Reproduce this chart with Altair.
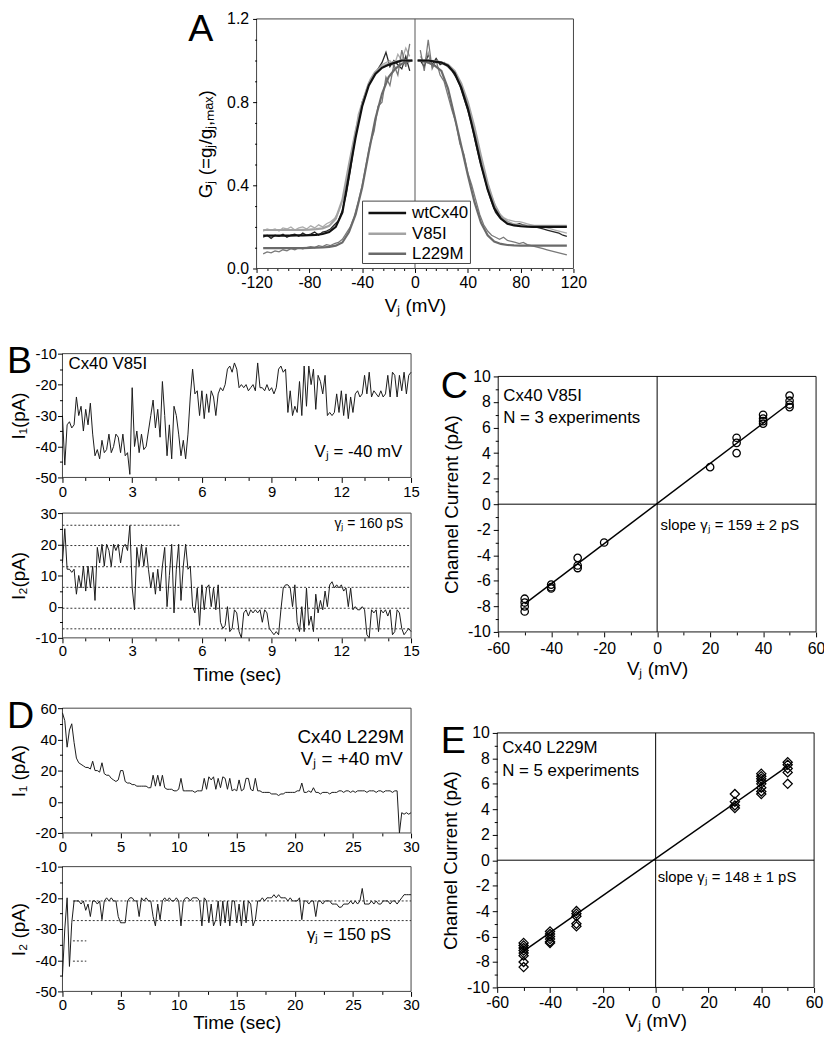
import altair as alt
import pandas as pd

W, H = 824, 1029
FONT = "Liberation Sans"

# ---------------- Panel A : normalized junctional conductance ----------------
SERIES = ["wtCx40", "V85I", "L229M"]
SERIES_COLORS = ["#111111", "#a3a3a3", "#6a6a6a"]

A_VJ_LEFT = [-115 + 3 * k for k in range(38)]
A_VJ_RIGHT = [4 + 3 * k for k in range(38)]

A_WT_LEFT = [0.15, 0.16, 0.145, 0.16, 0.155, 0.165, 0.15, 0.16, 0.165, 0.155,
             0.17, 0.16, 0.165, 0.175, 0.16, 0.175, 0.18, 0.19, 0.21, 0.23,
             0.28, 0.36, 0.47, 0.60, 0.70, 0.80, 0.85, 0.90, 0.93, 0.96,
             0.99, 1.04, 0.97, 1.00, 0.98, 0.96, 1.02, 0.95]
A_V85I_LEFT = [0.18, 0.19, 0.185, 0.19, 0.18, 0.195, 0.19, 0.2, 0.185, 0.195,
               0.2, 0.19, 0.205, 0.195, 0.21, 0.2, 0.215, 0.225, 0.24, 0.27,
               0.33, 0.42, 0.53, 0.62, 0.74, 0.80, 0.86, 0.91, 0.94, 0.96,
               0.98, 0.99, 1.0, 0.97, 1.03, 1.0, 1.06, 1.02]
A_L229M_LEFT = [0.07, 0.08, 0.075, 0.085, 0.08, 0.09, 0.085, 0.095, 0.09, 0.1,
                0.095, 0.1, 0.105, 0.1, 0.11, 0.105, 0.115, 0.11, 0.12, 0.125,
                0.14, 0.17, 0.2, 0.25, 0.32, 0.40, 0.50, 0.60, 0.66, 0.78,
                0.80, 0.92, 0.88, 0.98, 0.93, 1.05, 0.97, 1.08]
A_WT_RIGHT = [1.0, 0.97, 1.03, 0.98, 1.01, 0.98, 0.99, 0.97, 0.95, 0.92,
              0.88, 0.82, 0.76, 0.69, 0.60, 0.52, 0.45, 0.38, 0.32, 0.27,
              0.245, 0.23, 0.22, 0.215, 0.21, 0.215, 0.21, 0.205, 0.2, 0.2,
              0.195, 0.19, 0.185, 0.18, 0.175, 0.17, 0.16, 0.155]
A_V85I_RIGHT = [1.02, 0.99, 1.04, 0.97, 1.0, 0.99, 0.98, 0.97, 0.96, 0.93,
                0.90, 0.85, 0.79, 0.72, 0.63, 0.55, 0.48, 0.41, 0.35, 0.30,
                0.265, 0.245, 0.235, 0.23, 0.225, 0.225, 0.22, 0.215, 0.21, 0.205,
                0.2, 0.2, 0.195, 0.19, 0.185, 0.18, 0.175, 0.17]
A_L229M_RIGHT = [1.05, 0.95, 1.1, 0.96, 1.0, 0.93, 0.90, 0.83, 0.76, 0.70,
                 0.60, 0.55, 0.46, 0.40, 0.33, 0.26, 0.21, 0.18, 0.16, 0.15,
                 0.14, 0.15, 0.135, 0.13, 0.125, 0.12, 0.125, 0.115, 0.11, 0.105,
                 0.10, 0.095, 0.09, 0.085, 0.08, 0.075, 0.07, 0.065]

A_FIT_VJ_LEFT = [-115, -110, -105, -100, -95, -90, -85, -80, -75, -70, -65, -60,
                 -55, -50, -45, -40, -35, -30, -25, -20, -15, -10, -5, -2]
A_FIT_VJ_RIGHT = [2, 5, 10, 15, 20, 25, 30, 35, 40, 45, 50, 55, 60, 65, 70, 75,
                  80, 85, 90, 95, 100, 105, 110, 115]
A_FIT_WT_LEFT = [0.158, 0.158, 0.158, 0.158, 0.158, 0.159, 0.159, 0.160, 0.162, 0.166,
                 0.175, 0.20, 0.27, 0.45, 0.63, 0.78, 0.88, 0.935, 0.965, 0.98,
                 0.99, 1.0, 1.0, 1.0]
A_FIT_V85I_LEFT = [0.185, 0.185, 0.185, 0.185, 0.185, 0.185, 0.186, 0.187, 0.189, 0.193,
                   0.205, 0.24, 0.33, 0.50, 0.66, 0.79, 0.89, 0.945, 0.97, 0.985,
                   0.995, 1.0, 1.0, 1.0]
A_FIT_L229M_LEFT = [0.098, 0.098, 0.098, 0.098, 0.098, 0.098, 0.098, 0.099, 0.100, 0.101,
                    0.104, 0.11, 0.125, 0.175, 0.26, 0.39, 0.56, 0.72, 0.84, 0.92,
                    0.96, 0.985, 0.995, 1.0]
A_FIT_WT_RIGHT = [1.0, 1.0, 1.0, 0.995, 0.99, 0.975, 0.94, 0.87, 0.77, 0.64, 0.50, 0.38,
                  0.29, 0.24, 0.215, 0.207, 0.203, 0.201, 0.2, 0.2, 0.2, 0.2, 0.2, 0.2]
A_FIT_V85I_RIGHT = [1.0, 1.0, 1.0, 0.997, 0.992, 0.98, 0.95, 0.89, 0.80, 0.68, 0.54, 0.41,
                    0.31, 0.25, 0.225, 0.212, 0.207, 0.205, 0.205, 0.205, 0.205, 0.205,
                    0.205, 0.205]
A_FIT_L229M_RIGHT = [1.0, 1.0, 0.99, 0.975, 0.95, 0.865, 0.73, 0.59, 0.45, 0.32, 0.22, 0.16,
                     0.13, 0.118, 0.113, 0.111, 0.11, 0.11, 0.11, 0.11, 0.11, 0.11, 0.11, 0.11]

# ---------------- Panel B : Cx40 V85I, Vj = -40 mV ----------------
T_B = [round(0.1 * i, 1) for i in range(151)]
B1_I = [-30, -46, -33, -32, -34, -33, -24, -30, -27, -35,
        -28, -33, -26, -36, -43, -41, -44, -38, -42, -41,
        -36, -42, -40, -36, -37, -42, -36, -43, -42, -49,
        -21, -40, -35, -42, -36, -41, -40, -35, -30, -25,
        -34, -28, -37, -19, -30, -43, -33, -44, -27, -30,
        -36, -43, -38, -44, -36, -24, -15, -23, -22, -30,
        -22, -31, -23, -29, -22, -24, -30, -23, -21, -22,
        -20, -15, -14, -16, -13, -15, -21, -20, -21, -20,
        -22, -21, -20, -22, -13, -21, -21, -22, -20, -22,
        -21, -23, -21, -15, -14, -16, -15, -29, -22, -30,
        -27, -29, -19, -30, -14, -27, -14, -20, -15, -28,
        -17, -19, -23, -17, -30, -29, -30, -29, -23, -29,
        -22, -30, -23, -31, -24, -29, -23, -22, -24, -23,
        -17, -23, -16, -24, -22, -23, -24, -22, -24, -23,
        -17, -24, -16, -17, -24, -17, -22, -16, -23, -17,
        -16]
B2_I = [14, 25, 12, 12, 11, 12, 4, 10, 6, 13,
        5, 13, 6, 13, 2, 19, 14, 20, 13, 20,
        18, 13, 20, 18, 20, 14, 19, 20, 18, 26,
        6, -1, 19, 13, 20, 13, 19, 12, 6, 11,
        4, 12, 5, 13, 19, 0, 10, 20, -2, 12,
        20, 2, 13, 20, 12, 13, 0, -2, 6, -6,
        7, -1, 6, 7, 0, 6, -1, 7, -5, -7,
        -6, 0, -8, -7, -1, -2, -8, -10, -2, -1,
        -3, -1, -2, -1, -2, -1, -5, -1, -2, -7,
        -8, -9, -8, -9, -1, 6, 7, 7, 6, 0,
        7, -5, -8, 0, -8, 6, -6, -3, -8, 4,
        -2, 2, -1, 5, 0, 7, 8, 6, 7, 6,
        7, 5, 6, 0, 6, -1, 0, -1, -1, 0,
        -1, -9, -10, -1, -2, -1, -8, -1, -2, -1,
        -3, -1, -9, -8, -1, -2, -7, -9, -8, -7,
        -8]
B2_LEVELS = [26.1, 19.6, 12.8, 6.2, -0.5, -7.1]
B2_LEVEL_START = [0, 0, 0, 0, 0, 0]
B2_LEVEL_END = [5.05, 15, 15, 15, 15, 15]

# ---------------- Panel C : V85I I-V ----------------
C_VJ = [-50, -50, -50, -50, -40, -40, -40, -30, -30, -30, -20, 20,
        30, 30, 30, 40, 40, 40, 40, 50, 50, 50, 50]
C_I = [-7.4, -7.7, -8.0, -8.4, -6.3, -6.5, -6.6, -4.2, -4.8, -5.0, -3.0, 2.9,
       5.2, 4.8, 4.0, 7.0, 6.7, 6.5, 6.3, 8.5, 8.1, 7.8, 7.6]
C_FIT_VJ = [-50, 50]
C_FIT_I = [-7.8, 7.9]

# ---------------- Panel D : Cx40 L229M, Vj = +40 mV ----------------
T_D = [round(0.2 * i, 1) for i in range(151)]
D1_I = [57, 52, 35, 46, 50, 38, 28, 25, 24, 23,
        22, 22, 21, 26, 20, 20, 19, 25, 18, 17,
        17, 15, 14, 13, 14, 20, 20, 13, 12, 12,
        11, 11, 10, 10, 10, 10, 10, 9, 9, 17,
        10, 17, 10, 17, 9, 8, 8, 8, 7, 7,
        8, 15, 7, 7, 7, 7, 7, 6, 7, 7,
        7, 15, 8, 16, 14, 16, 8, 15, 9, 16,
        15, 8, 15, 7, 8, 7, 14, 7, 8, 15,
        15, 8, 7, 15, 7, 7, 6, 6, 6, 6,
        5, 5, 5, 4, 5, 5, 6, 6, 6, 6,
        6, 7, 7, 12, 6, 6, 7, 6, 9, 6,
        6, 5, 6, 6, 6, 5, 6, 6, 6, 7,
        7, 6, 7, 7, 6, 7, 6, 7, 7, 7,
        7, 6, 7, 7, 7, 6, 7, 7, 6, 7,
        7, 7, 6, 7, 7, -20, -7, -8, -7, -8,
        -7]
D2_I = [-45, -30, -20, -42, -28, -21, -21, -21, -22, -21,
        -24, -22, -26, -21, -21, -22, -21, -27, -21, -20,
        -21, -20, -21, -21, -26, -28, -28, -28, -21, -20,
        -20, -21, -21, -26, -20, -21, -20, -21, -21, -26,
        -29, -22, -27, -21, -20, -21, -20, -21, -21, -20,
        -21, -29, -21, -20, -20, -21, -20, -20, -20, -21,
        -29, -20, -21, -28, -22, -29, -27, -21, -29, -21,
        -28, -21, -29, -21, -21, -28, -22, -29, -21, -28,
        -21, -22, -29, -27, -21, -21, -20, -21, -20, -20,
        -20, -19, -20, -19, -20, -20, -20, -21, -20, -21,
        -21, -21, -20, -27, -21, -21, -22, -21, -21, -26,
        -21, -21, -22, -21, -21, -21, -22, -22, -22, -23,
        -23, -22, -22, -22, -21, -22, -21, -22, -21, -17,
        -22, -22, -22, -21, -22, -21, -22, -22, -21, -21,
        -21, -22, -21, -21, -22, -21, -20, -19, -19, -19,
        -19]
D2_LEVELS = [-21.0, -27.3, -33.8, -40.3]
D2_LEVEL_START = [0.9, 0.9, 0.9, 0.9]
D2_LEVEL_END = [30, 30, 2.05, 2.05]

# ---------------- Panel E : L229M I-V ----------------
E_VJ = [-50] * 8 + [-40] * 6 + [-30] * 5 + [30] * 4 + [40] * 8 + [50] * 5
E_I = [-6.5, -6.7, -6.9, -7.1, -7.3, -7.5, -8.0, -8.4,
       -5.6, -5.8, -6.0, -6.2, -6.4, -6.5,
       -4.0, -4.2, -4.4, -5.0, -5.2,
       5.2, 4.6, 4.3, 4.1,
       6.8, 6.6, 6.4, 6.2, 6.0, 5.7, 5.4, 5.2,
       7.7, 7.5, 7.2, 6.9, 6.0]
E_FIT_VJ = [-50, 50]
E_FIT_I = [-7.15, 7.4]

# ---------------- tick values ----------------
A_XTICKS = [-120, -80, -40, 0, 40, 80, 120]
A_XMINOR = [-112, -104, -96, -88, -72, -64, -56, -48, -32, -24, -16, -8,
            8, 16, 24, 32, 48, 56, 64, 72, 88, 96, 104, 112]
A_YTICKS = [0.0, 0.4, 0.8, 1.2]
A_YMINOR = [0.1, 0.2, 0.3, 0.5, 0.6, 0.7, 0.9, 1.0, 1.1]
B_XTICKS = [0, 3, 6, 9, 12, 15]
B_XMINOR = [1, 2, 4, 5, 7, 8, 10, 11, 13, 14]
B1_YTICKS = [-50, -40, -30, -20, -10]
B1_YMINOR = [-45, -35, -25, -15]
B2_YTICKS = [-10, 0, 10, 20, 30]
B2_YMINOR = [-5, 5, 15, 25]
D_XTICKS = [0, 5, 10, 15, 20, 25, 30]
D_XMINOR = [2.5, 7.5, 12.5, 17.5, 22.5, 27.5]
D1_YTICKS = [-20, 0, 20, 40, 60]
D1_YMINOR = [-10, 10, 30, 50]
D2_YTICKS = [-50, -40, -30, -20, -10]
D2_YMINOR = [-45, -35, -25, -15]
IV_XTICKS = [-60, -40, -20, 0, 20, 40, 60]
IV_XMINOR = [-50, -30, -10, 10, 30, 50]
IV_YTICKS = [-10, -8, -6, -4, -2, 0, 2, 4, 6, 8, 10]
IV_YMINOR = [-9, -7, -5, -3, -1, 1, 3, 5, 7, 9]

# ---------------- layout: panel domains and pixel ranges ----------------
PAN = {
    "A": dict(xd=[-120, 120], xr=[251, 571], yd=[0, 1.2], yr=[258, 6]),
    "B1": dict(xd=[0, 15], xr=[55, 407], yd=[-50, -10], yr=[469, 344]),
    "B2": dict(xd=[0, 15], xr=[55, 407], yd=[-10, 30], yr=[631, 505]),
    "C": dict(xd=[-60, 60], xr=[495, 816], yd=[-10, 10], yr=[625, 367]),
    "D1": dict(xd=[0, 30], xr=[55, 407], yd=[-20, 60], yr=[828, 702]),
    "D2": dict(xd=[0, 30], xr=[55, 407], yd=[-50, -10], yr=[988, 862]),
    "E": dict(xd=[-60, 60], xr=[494, 814], yd=[-10, 10], yr=[984, 727]),
}
HYPHEN_EXPR = "replace(datum.label, '\u2212', '-')"


def xsc(p):
    d = PAN[p]
    return alt.Scale(domain=d["xd"], range=d["xr"], nice=False, zero=False)


def ysc(p):
    d = PAN[p]
    return alt.Scale(domain=d["yd"], range=d["yr"], nice=False, zero=False)


def XY(p, xf="x", yf="y"):
    return dict(x=alt.X(xf, type="quantitative", scale=xsc(p), axis=None),
                y=alt.Y(yf, type="quantitative", scale=ysc(p), axis=None))


def axes_layer(p, xvals, yvals, xtitle, ytitle, lfs, tfs, xlp, ylp, xtp, ytp,
               xfmt="d", yfmt="d", tick=5, frame="#333333"):
    d = PAN[p]
    df = pd.DataFrame({"x0": [d["xd"][0]], "x1": [d["xd"][1]],
                       "y0": [d["yd"][0]], "y1": [d["yd"][1]]})
    common = dict(grid=False, domain=False, ticks=True, tickSize=tick, tickColor="#000000",
                  tickWidth=1, labelFont=FONT, labelFontSize=lfs, labelColor="#000000",
                  labelFlush=False, labelOverlap=False, labelExpr=HYPHEN_EXPR,
                  titleFont=FONT, titleFontSize=tfs,
                  titleFontWeight="normal", titleColor="#000000", zindex=1)
    xa = alt.Axis(orient="bottom", offset=d["yr"][0] - H, values=xvals, format=xfmt,
                  labelPadding=xlp, title=xtitle, titlePadding=xtp, **common)
    ya = alt.Axis(orient="left", offset=-d["xr"][0], values=yvals, format=yfmt,
                  labelPadding=ylp, title=ytitle, titlePadding=ytp, **common)
    return alt.Chart(df).mark_rect(fill="#ffffff", fillOpacity=0, stroke=frame,
                                   strokeWidth=1).encode(
        x=alt.X("x0", type="quantitative", scale=xsc(p), axis=xa),
        x2=alt.X2("x1"),
        y=alt.Y("y0", type="quantitative", scale=ysc(p), axis=ya),
        y2=alt.Y2("y1"),
    )


def minor_layer(p, xvals, yvals, tick=3):
    d = PAN[p]
    df = pd.DataFrame({"x": d["xd"], "y": d["yd"]})
    common = dict(grid=False, domain=False, labels=False, ticks=True, tickSize=tick,
                  tickColor="#000000", tickWidth=1, title="", zindex=1)
    xa = alt.Axis(orient="bottom", offset=d["yr"][0] - H, values=xvals, **common)
    ya = alt.Axis(orient="left", offset=-d["xr"][0], values=yvals, **common)
    return alt.Chart(df).mark_point(opacity=0).encode(
        x=alt.X("x", type="quantitative", scale=xsc(p), axis=xa),
        y=alt.Y("y", type="quantitative", scale=ysc(p), axis=ya),
    )


def trace_layer(p, t, v, color="#1a1a1a", width=1.0):
    df = pd.DataFrame({"x": t, "y": v})
    return alt.Chart(df).mark_line(color=color, strokeWidth=width).encode(**XY(p))


def text_layer(p, rows, fs, align="left", baseline="alphabetic"):
    df = pd.DataFrame(rows, columns=["x", "y", "t"])
    return alt.Chart(df).mark_text(align=align, baseline=baseline, font=FONT, fontSize=fs,
                                   color="#000000").encode(**XY(p), text="t:N")


def hlines_layer(p, starts, ends, levels, color="#333333"):
    df = pd.DataFrame({"x": starts, "x1": ends, "y": levels})
    return alt.Chart(df).mark_rule(color=color, strokeWidth=1, strokeDash=[2, 2]).encode(
        **XY(p), x2=alt.X2("x1"))


def cross_layer(p, color="#000000"):
    d = PAN[p]
    df = pd.DataFrame({"x": [0, d["xd"][0]], "x1": [0, d["xd"][1]],
                       "y": [d["yd"][0], 0], "y1": [d["yd"][1], 0]})
    return alt.Chart(df).mark_rule(color=color, strokeWidth=1).encode(
        **XY(p), x2=alt.X2("x1"), y2=alt.Y2("y1"))


layers = []

# ======== Panel A ========
rows = []
for s, lv, rv in [("wtCx40", A_WT_LEFT, A_WT_RIGHT), ("V85I", A_V85I_LEFT, A_V85I_RIGHT),
                  ("L229M", A_L229M_LEFT, A_L229M_RIGHT)]:
    rows += [(v, g, s, s + "L") for v, g in zip(A_VJ_LEFT, lv)]
    rows += [(v, g, s, s + "R") for v, g in zip(A_VJ_RIGHT, rv)]
a_data = pd.DataFrame(rows, columns=["x", "y", "s", "seg"])
rows = []
for s, lv, rv in [("V85I", A_FIT_V85I_LEFT, A_FIT_V85I_RIGHT),
                  ("L229M", A_FIT_L229M_LEFT, A_FIT_L229M_RIGHT),
                  ("wtCx40", A_FIT_WT_LEFT, A_FIT_WT_RIGHT)]:
    rows += [(v, g, s, s + "L") for v, g in zip(A_FIT_VJ_LEFT, lv)]
    rows += [(v, g, s, s + "R") for v, g in zip(A_FIT_VJ_RIGHT, rv)]
a_fit = pd.DataFrame(rows, columns=["x", "y", "s", "seg"])
color_enc = alt.Color("s:N", scale=alt.Scale(domain=SERIES, range=SERIES_COLORS), legend=None)

layers.append(axes_layer("A", A_XTICKS, A_YTICKS, "Vⱼ (mV)", "Gⱼ (=gⱼ/gⱼ,ₘₐₓ)", 16, 19,
                         2, 4, 6, 11, yfmt=".1f", tick=4, frame="#444444"))
layers.append(minor_layer("A", A_XMINOR, A_YMINOR, tick=2))
layers.append(alt.Chart(pd.DataFrame({"x": [0], "y": [0], "y1": [1.2]})).mark_rule(
    color="#555555", strokeWidth=1).encode(**XY("A"), y2=alt.Y2("y1")))
layers.append(alt.Chart(a_data).mark_line(strokeWidth=1.3, opacity=0.9).encode(
    **XY("A"), color=color_enc, detail="seg:N"))
layers.append(alt.Chart(a_fit).mark_line(strokeWidth=2.2).encode(
    **XY("A"), color=color_enc, detail="seg:N"))
# legend built from the series list
layers.append(alt.Chart(pd.DataFrame({"x": [-39.75], "x1": [42], "y": [0.024], "y1": [0.324]}))
              .mark_rect(fill="#ffffff", stroke="#444444", strokeWidth=1)
              .encode(**XY("A"), x2=alt.X2("x1"), y2=alt.Y2("y1")))
leg = pd.DataFrame({"x": [-35.25] * 3, "x1": [-6.75] * 3, "y": [0.267, 0.167, 0.071],
                    "s": SERIES, "lx": [-2.25] * 3})
layers.append(alt.Chart(leg).mark_rule(strokeWidth=2.6).encode(
    **XY("A"), x2=alt.X2("x1"), color=color_enc))
layers.append(alt.Chart(leg).mark_text(align="left", baseline="middle", font=FONT, fontSize=17,
                                       color="#000000").encode(**XY("A", "lx", "y"), text="s:N"))
layers.append(text_layer("A", [(-171.7, 1.095, "A")], 38))

# ======== Panel B ========
layers.append(axes_layer("B1", B_XTICKS, B1_YTICKS, "", "I₁(pA)", 15, 19, 2, 1, 4, 7,
                         frame="#444444"))
layers.append(minor_layer("B1", B_XMINOR, B1_YMINOR))
layers.append(trace_layer("B1", T_B, B1_I))
layers.append(text_layer("B1", [(0.26, -15.1, "Cx40 V85I")], 17))
layers.append(text_layer("B1", [(14.62, -43.3, "Vⱼ = -40 mV")], 17, align="right"))
layers.append(text_layer("B1", [(-2.39, -16.4, "B")], 38))

layers.append(axes_layer("B2", B_XTICKS, B2_YTICKS, "Time (sec)", "I₂(pA)", 15, 19, 1, 1, 7, 7,
                         frame="#444444"))
layers.append(minor_layer("B2", B_XMINOR, B2_YMINOR))
layers.append(hlines_layer("B2", B2_LEVEL_START, B2_LEVEL_END, B2_LEVELS))
layers.append(trace_layer("B2", T_B, B2_I))
layers.append(text_layer("B2", [(14.66, 25.2, "γⱼ = 160 pS")], 14, align="right"))

# ======== Panel C ========
layers.append(axes_layer("C", IV_XTICKS, IV_YTICKS, "Vⱼ (mV)", "Channel Current (pA)", 16, 19,
                         4, 3, 3, 6, frame="#111111"))
layers.append(minor_layer("C", IV_XMINOR, IV_YMINOR))
layers.append(cross_layer("C"))
layers.append(trace_layer("C", C_FIT_VJ, C_FIT_I, color="#000000", width=1.5))
layers.append(alt.Chart(pd.DataFrame({"x": C_VJ, "y": C_I})).mark_point(
    shape="circle", size=56, filled=False, color="#000000", strokeWidth=1.3, opacity=1).encode(**XY("C")))
layers.append(text_layer("C", [(-58.1, 8.06, "Cx40 V85I"), (-58.1, 6.36, "N = 3 experiments")], 17))
layers.append(text_layer("C", [(1.3, -2.02, "slope γⱼ = 159 ± 2 pS")], 15))
layers.append(text_layer("C", [(-81.7, 8.29, "C")], 38))

# ======== Panel D ========
layers.append(axes_layer("D1", D_XTICKS, D1_YTICKS, "", "I₁ (pA)", 15, 19, 2, 1, 4, 7,
                         frame="#444444"))
layers.append(minor_layer("D1", D_XMINOR, D1_YMINOR))
layers.append(trace_layer("D1", T_D, D1_I))
layers.append(text_layer("D1", [(29.4, 37.8, "Cx40 L229M"), (29.3, 23.8, "Vⱼ = +40 mV")], 19,
                         align="right"))
layers.append(text_layer("D1", [(-4.77, 47.3, "D")], 38))

layers.append(axes_layer("D2", D_XTICKS, D2_YTICKS, "Time (sec)", "I₂ (pA)", 15, 19, 1, 1, 1, 7,
                         frame="#444444"))
layers.append(minor_layer("D2", D_XMINOR, D2_YMINOR))
layers.append(hlines_layer("D2", D2_LEVEL_START, D2_LEVEL_END, D2_LEVELS))
layers.append(trace_layer("D2", T_D, D2_I))
layers.append(text_layer("D2", [(21.05, -33.5, "γⱼ = 150 pS")], 17))

# ======== Panel E ========
layers.append(axes_layer("E", IV_XTICKS, IV_YTICKS, "Vⱼ (mV)", "Channel Current (pA)", 16, 19,
                         2, 3, 1, 6, frame="#111111"))
layers.append(minor_layer("E", IV_XMINOR, IV_YMINOR))
layers.append(cross_layer("E"))
layers.append(trace_layer("E", E_FIT_VJ, E_FIT_I, color="#000000", width=1.5))
layers.append(alt.Chart(pd.DataFrame({"x": E_VJ, "y": E_I})).mark_point(
    shape="diamond", size=85, filled=False, color="#000000", strokeWidth=1.3, opacity=1).encode(**XY("E")))
layers.append(text_layer("E", [(-58.1, 8.44, "Cx40 L229M"), (-58.1, 6.65, "N = 5 experiments")], 17))
layers.append(text_layer("E", [(0.75, -1.75, "slope γⱼ = 148 ± 1 pS")], 15))
layers.append(text_layer("E", [(-81.4, 8.44, "E")], 38))

chart = alt.layer(*layers).resolve_scale(
    x="independent", y="independent"
).properties(
    width=W, height=H, padding=0, autosize=alt.AutoSizeParams(type="none")
).configure_view(stroke=None)

chart.save("out.html", embed_options={"renderer": "svg", "actions": False})
